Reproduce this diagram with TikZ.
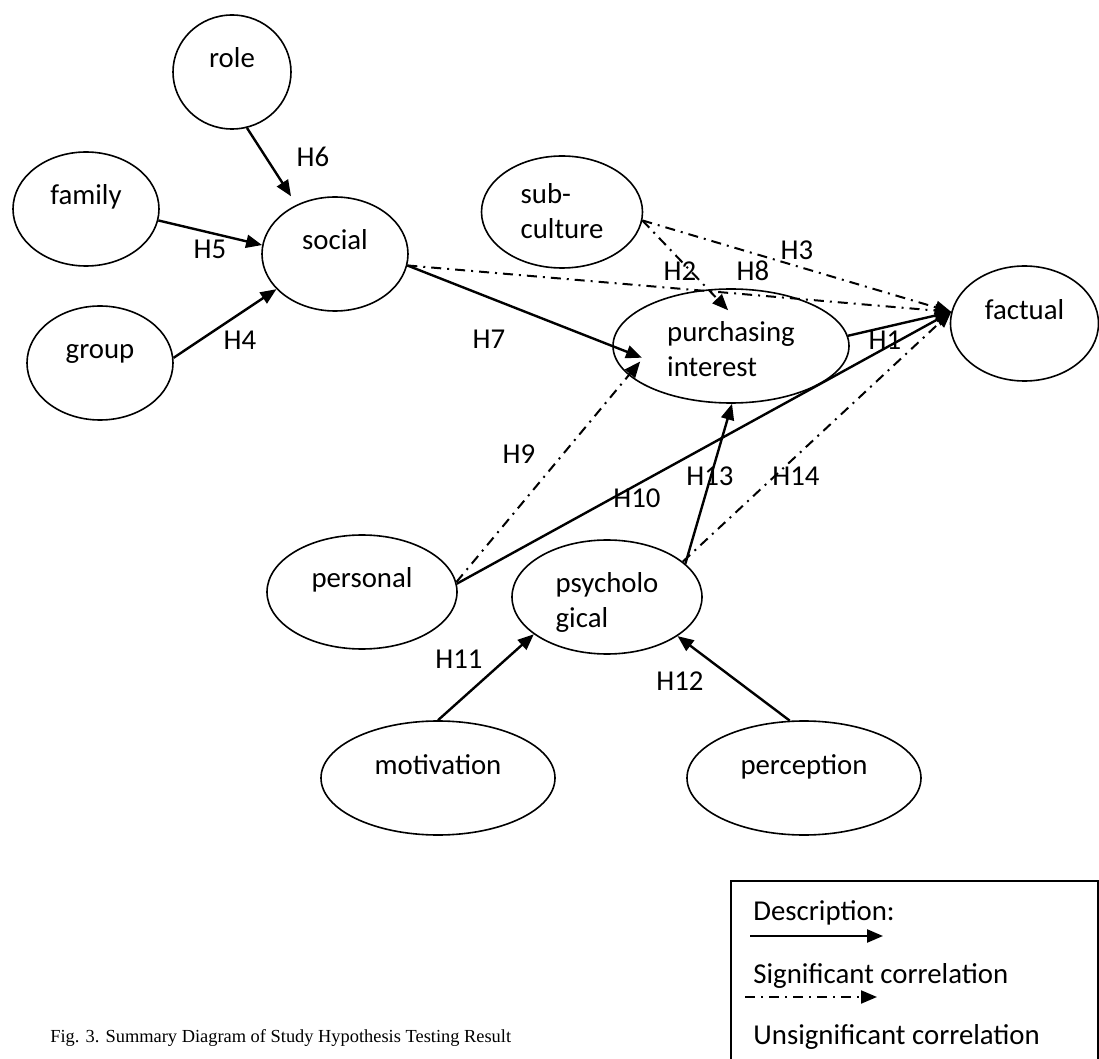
\documentclass[tikz,border=0pt]{standalone}
\usepackage{fontspec}
\setmainfont{Carlito}
\newfontfamily\capfont{Liberation Serif}
\usetikzlibrary{arrows.meta,shapes.geometric}
\tikzset{
  ell/.style={draw, line width=0.8pt, ellipse, inner sep=0pt},
  oneline/.style={text height=10pt, text depth=14pt},
  sig/.style={line width=1.2pt, -{Triangle[length=8pt,width=6.5pt]}},
  unsig/.style={line width=1pt, dash pattern=on 5pt off 3pt on 1pt off 3pt, -{Triangle[length=8pt,width=6.5pt]}},
  hlab/.style={inner sep=0pt},
  legtxt/.style={inner sep=0pt, anchor=base west},
  legbox/.style={line width=0.9pt}
}
\begin{document}
\begin{tikzpicture}[x=0.5pt, y=-0.5pt, font=\fontsize{14.4}{17.5}\selectfont]
\useasboundingbox (0,0) rectangle (1099,1059);

% ellipses
\node[ell, oneline, minimum width=59pt, minimum height=57pt] (role) at (232,72) {role};
\node[ell, oneline, minimum width=73pt, minimum height=57pt] (family) at (86,209) {family};
\node[ell, oneline, minimum width=73pt, minimum height=57pt] (social) at (335,254) {social};
\node[ell, oneline, minimum width=73pt, minimum height=57pt] (group) at (100,363) {group};
\node[ell, text height=12pt, text depth=20pt, minimum width=80.5pt, minimum height=56pt] (sub) at (562,212)
  {\begin{tabular}[t]{@{}l@{}}sub-\\culture\end{tabular}};
\node[ell, text height=12pt, text depth=16pt, minimum width=118pt, minimum height=57pt] (purch) at (731,346)
  {\begin{tabular}[t]{@{}l@{}}purchasing\\interest\end{tabular}};
\node[ell, oneline, minimum width=74pt, minimum height=57.5pt] (factual) at (1024.5,323.5) {factual};
\node[ell, oneline, minimum width=95pt, minimum height=57pt] (personal) at (362,592) {personal};
\node[ell, text height=12pt, text depth=17pt, minimum width=95pt, minimum height=57pt] (psych) at (607,597)
  {\begin{tabular}[t]{@{}l@{}}psycholo\\gical\end{tabular}};
\node[ell, oneline, minimum width=117pt, minimum height=57pt] (motivation) at (438,778) {motivation};
\node[ell, oneline, minimum width=117pt, minimum height=57pt] (perception) at (804,778) {perception};

% connectors
\draw[sig, shorten >=5pt] (role.-75) -- (social.128);
\draw[sig] (family.-9) -- (social.173);
\draw[sig] (group.4) -- (social.211);
\draw[sig, shorten >=-16pt] (social.-9) -- (purch.180);
\draw[unsig] (social.-9) -- (factual.171);
\draw[unsig, shorten >=-14.5pt] (sub.-6) -- (purch.112);
\draw[unsig] (sub.-6) -- (factual.171);
\draw[sig] (purch.5) -- (factual.171);
\draw[sig] (personal.5) -- (factual.171);
\draw[unsig, shorten >=-9pt] (personal.6) -- (purch.196);
\draw[sig] (psych.23) -- (purch.-89);
\draw[unsig] (psych.25) -- (factual.171);
\draw[sig] (motivation.90) -- (psych.207);
\draw[sig] (perception.104) -- (psych.-29);

% hypothesis labels
\node[hlab] (h6) at (313,157) {H6};
\node[hlab] (h5) at (210,249) {H5};
\node[hlab] (h4) at (240,340) {H4};
\node[hlab] (h7) at (489,339) {H7};
\node[hlab] (h2) at (680,271) {H2};
\node[hlab] (h8) at (753,271) {H8};
\node[hlab] (h3) at (797,250) {H3};
\node[hlab] (h1) at (885,340) {H1};
\node[hlab] (h9) at (519,454) {H9};
\node[hlab] (h10) at (637,498) {H10};
\node[hlab] (h13) at (710,476) {H13};
\node[hlab] (h14) at (796,476) {H14};
\node[hlab] (h11) at (459,659) {H11};
\node[hlab] (h12) at (680,681) {H12};

% legend
\draw[legbox] (731,1059) |- (1098,881) -- (1098,1059);
\node[legtxt] (desc) at (753,920) {Description:};
\coordinate (ls1) at (750,936);
\coordinate (le1) at (883,936);
\draw[sig] (ls1) -- (le1);
\node[legtxt] (sigtxt) at (753,983) {Significant correlation};
\coordinate (ls2) at (745,997);
\coordinate (le2) at (877,997);
\draw[unsig] (ls2) -- (le2);
\node[legtxt] (unsigtxt) at (753,1044) {Unsignificant correlation};

% caption
\node[legtxt, font=\capfont\fontsize{9.2}{11}\selectfont] (caption) at (50,1042)
  {Fig. 3. Summary Diagram of Study Hypothesis Testing Result};
\end{tikzpicture}
\end{document}
